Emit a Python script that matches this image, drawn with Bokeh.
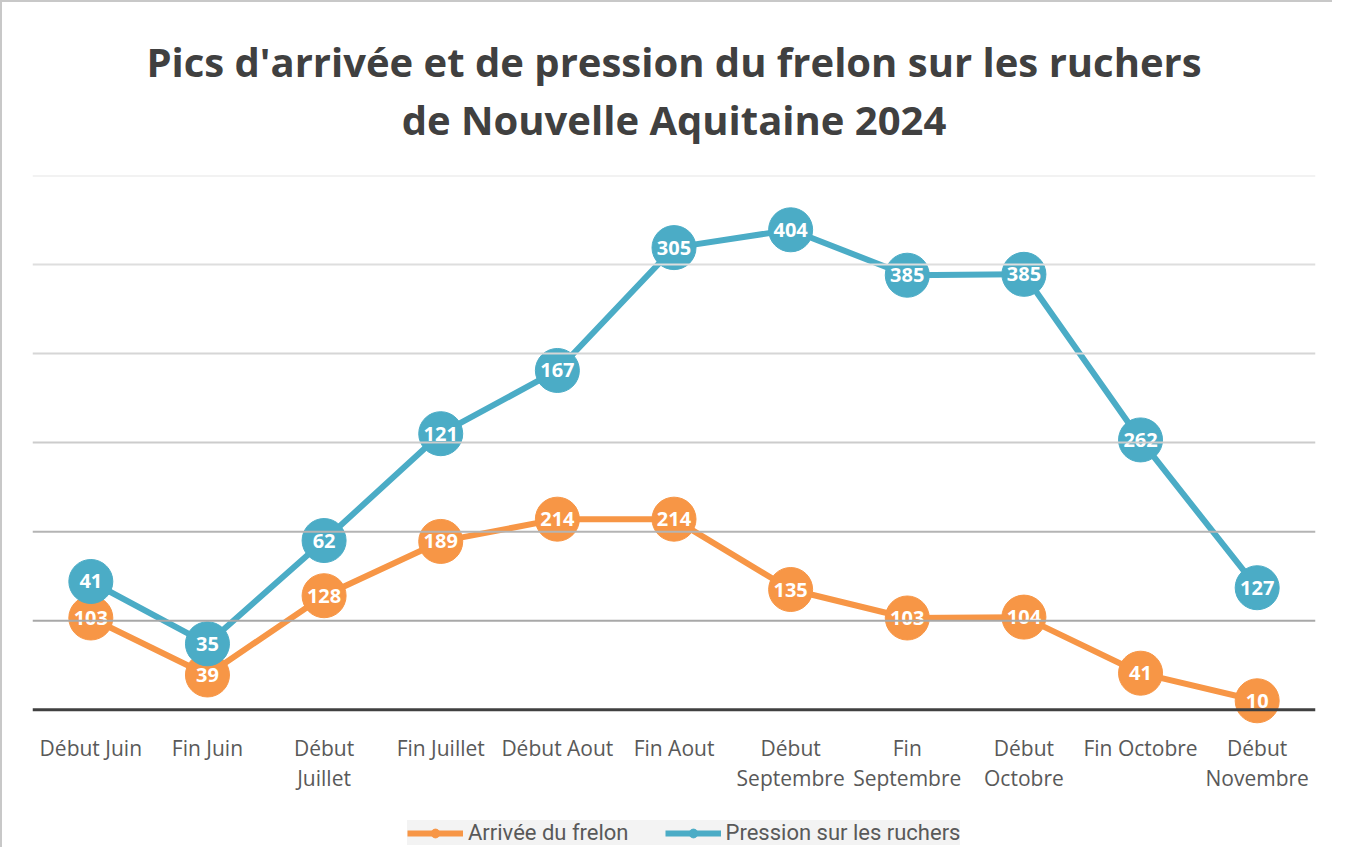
from bokeh.plotting import figure
from bokeh.layouts import column
from bokeh.models import (Range1d, Span, Title, Legend, LegendItem,
                          ColumnDataSource, LinearAxis, FixedTicker)
from bokeh.core.properties import value
from bokeh.embed import file_html
from bokeh.resources import INLINE

# ---- data ----
categories = ["Début Juin", "Fin Juin", "Début Juillet", "Fin Juillet", "Début Aout",
              "Fin Aout", "Début Septembre", "Fin Septembre", "Début Octobre",
              "Fin Octobre", "Début Novembre"]
tick_line1 = ["Début Juin", "Fin Juin", "Début", "Fin Juillet", "Début Aout",
              "Fin Aout", "Début", "Fin", "Début", "Fin Octobre", "Début"]
tick_line2 = ["", "", "Juillet", "", "", "", "Septembre", "Septembre", "Octobre",
              "", "Novembre"]
arrivee = [103, 39, 128, 189, 214, 214, 135, 103, 104, 41, 10]
pression = [41, 35, 62, 121, 167, 305, 404, 385, 385, 262, 127]
grid_values = [100, 200, 300, 400, 500, 600]
grid_colors = ["#A8A8A8", "#B4B4B4", "#CCCCCC", "#D6D6D6", "#DEDEDE", "#E6E6E6"]
series_names = ["Arrivée du frelon", "Pression sur les ruchers"]

title_line1 = "Pics d'arrivée et de pression du frelon sur les ruchers"
title_line2 = "de Nouvelle Aquitaine 2024"

ORANGE = "#F79646"
BLUE = "#4BACC6"
FONT = "Open Sans"

# category positions on the x scale, and the stacked second series
xpos = list(range(len(categories)))
pression_stacked = [a + b for a, b in zip(arrivee, pression)]

src = ColumnDataSource(dict(
    x=xpos,
    cat=categories,
    arr=arrivee,
    arr_lbl=[str(v) for v in arrivee],
    pre=pression_stacked,
    pre_lbl=[str(v) for v in pression],
))

W, H = 1330, 800
p = figure(
    width=W, height=H,
    x_range=Range1d(-0.5, len(categories) - 0.5),
    y_range=Range1d(-20, 600),
    output_backend="svg", toolbar_location=None,
    min_border_left=30, min_border_right=17, min_border_top=173, min_border_bottom=75,
    background_fill_color="white", border_fill_color="white",
    outline_line_color=None,
)

p.title = None
t2 = Title(text=title_line2, align="center", text_font=FONT, text_font_size="40px",
           text_font_style="bold", text_color="#404040", standoff=58,
           text_line_height=0.8)
t1 = Title(text=title_line1, align="center", text_font=FONT, text_font_size="40px",
           text_font_style="bold", text_color="#404040", standoff=-56,
           text_line_height=0.8)
p.add_layout(t2, "above")
p.add_layout(t1, "above")

p.yaxis.visible = False
p.ygrid.visible = False
p.xgrid.visible = False

for gv, gc in zip(grid_values, grid_colors):
    p.add_layout(Span(location=gv, dimension="width", line_color=gc, line_width=2))
# category axis baseline at zero
p.add_layout(Span(location=0, dimension="width", line_color="#404040", line_width=3))

xa = p.xaxis[0]
xa.ticker = FixedTicker(ticks=xpos, minor_ticks=[])
xa.axis_line_color = None
xa.major_tick_line_color = None
xa.minor_tick_line_color = None
xa.major_label_text_font = FONT
xa.major_label_text_font_size = "21px"
xa.major_label_text_color = "#595959"
xa.major_label_standoff = 0
xa.major_label_overrides = {i: t for i, t in zip(xpos, tick_line1)}

xb = LinearAxis(
    ticker=FixedTicker(ticks=xpos, minor_ticks=[]),
    axis_line_color=None, major_tick_line_color=None, minor_tick_line_color=None,
    major_label_text_font=FONT, major_label_text_font_size="21px",
    major_label_text_color="#595959", major_label_standoff=-7,
    major_label_overrides={i: t for i, t in zip(xpos, tick_line2)},
)
p.add_layout(xb, "below")

p.line("x", "arr", source=src, line_color=ORANGE, line_width=6)
p.line("x", "pre", source=src, line_color=BLUE, line_width=6)
p.scatter("x", "arr", source=src, size=44, fill_color=ORANGE, line_color=ORANGE)
p.scatter("x", "pre", source=src, size=44, fill_color=BLUE, line_color=BLUE)

p.text("x", "arr", text="arr_lbl", source=src, text_align="center", text_baseline="middle",
       text_color="white", text_font=value(FONT), text_font_size="20px", text_font_style="bold")
p.text("x", "pre", text="pre_lbl", source=src, text_align="center", text_baseline="middle",
       text_color="white", text_font=value(FONT), text_font_size="20px", text_font_style="bold")

# legend strip under the chart: same series, viewed through a range that shows none of them
lg = figure(
    width=W, height=45, x_range=Range1d(-0.5, len(categories) - 0.5),
    y_range=Range1d(10000, 10001),
    output_backend="svg", toolbar_location=None,
    min_border_left=0, min_border_right=0, min_border_top=0, min_border_bottom=0,
    outline_line_color=None, background_fill_color="white", border_fill_color="white",
)
lg.xaxis.visible = False
lg.yaxis.visible = False
lg.xgrid.visible = False
lg.ygrid.visible = False
items = []
for name, col, field in zip(series_names, [ORANGE, BLUE], ["arr", "pre"]):
    rl = lg.line("x", field, source=src, line_color=col, line_width=6)
    rc = lg.scatter("x", field, source=src, size=10, fill_color=col, line_color=col)
    items.append(LegendItem(label=name, renderers=[rl, rc]))

legend = Legend(
    items=items, orientation="horizontal", location=(375, 2),
    label_text_font="Roboto", label_text_font_size="22px", label_text_color="#595959",
    background_fill_color="#F3F3F3", background_fill_alpha=1,
    border_line_color=None,
    glyph_width=56, glyph_height=22, label_height=22, label_standoff=5, spacing=36,
    padding=10, margin=0,
)
lg.add_layout(legend)

layout = column(p, lg, spacing=0,
                styles={"border-left": "2px solid #C8C8C8", "border-top": "2px solid #C8C8C8"})
open("out.html", "w").write(file_html(layout, INLINE))
